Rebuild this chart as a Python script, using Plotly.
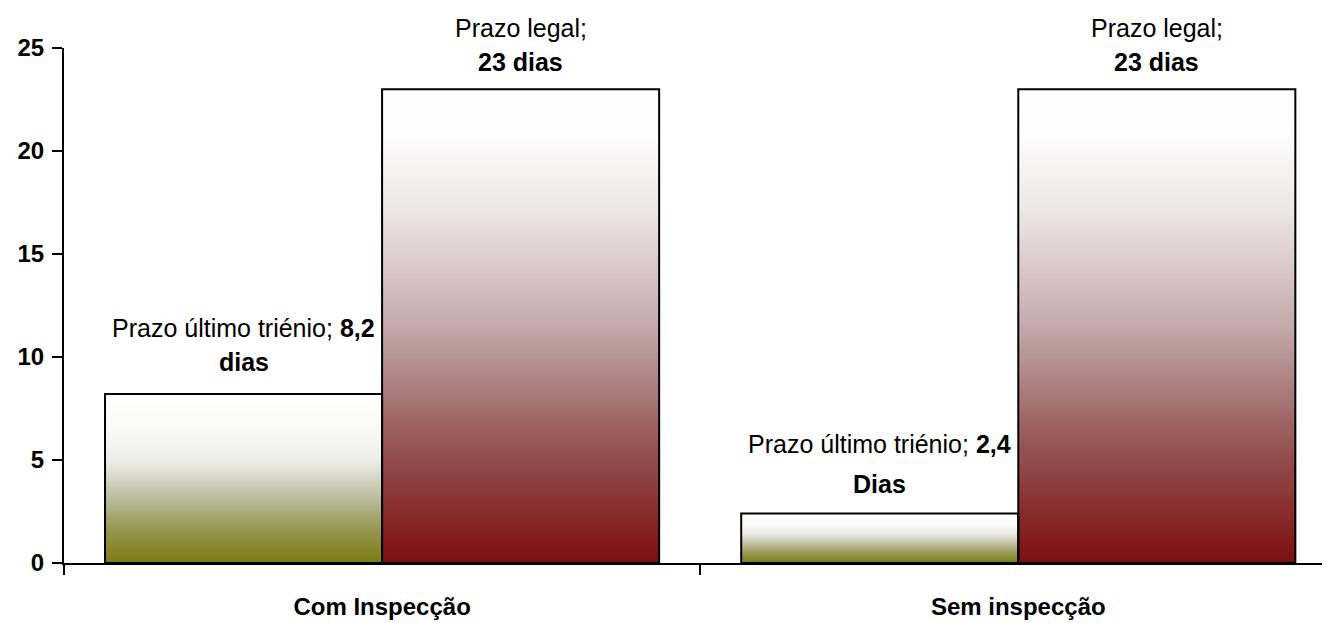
import plotly.graph_objects as go

categories = ["Com Inspecção", "Sem inspecção"]
prazo_trienio = [8.2, 2.4]
prazo_legal = [23, 23]
trienio_line1 = ["Prazo último triénio; <b>8,2</b>", "Prazo último triénio; <b>2,4</b>"]
trienio_line2 = ["<b>dias</b>", "<b>Dias</b>"]
legal_line1 = ["Prazo legal;", "Prazo legal;"]
legal_line2 = ["<b>23 dias</b>", "<b>23 dias</b>"]
y_ticks = [0, 5, 10, 15, 20, 25]

FONT = "Liberation Sans, Arial, sans-serif"
BAR_W = 0.4355
N = 160

green_stops = [(0.0, (124, 124, 18)), (0.2, (150, 150, 80)), (0.4, (192, 192, 165)),
               (0.6, (236, 236, 230)), (0.8, (250, 250, 248)), (1.0, (255, 255, 255))]
red_stops = [(0.0, (125, 14, 16)), (0.25, (150, 85, 85)), (0.5, (196, 170, 170)),
             (0.75, (238, 232, 230)), (0.9, (252, 252, 252)), (1.0, (255, 255, 255))]


def interp(stops, t):
    for (t0, c0), (t1, c1) in zip(stops[:-1], stops[1:]):
        if t <= t1:
            f = (t - t0) / (t1 - t0)
            return "rgb(%d,%d,%d)" % tuple(round(a + (b - a) * f) for a, b in zip(c0, c1))
    return "rgb(%d,%d,%d)" % stops[-1][1]


def gradient_trace(values, stops, offset):
    xs, ys, bases, cols = [], [], [], []
    for cat, v in zip(categories, values):
        for k in range(N):
            b = v * k / N
            xs.append(cat)
            ys.append(min(3 * v / N, v - b))
            bases.append(b)
            cols.append(interp(stops, (k + 0.5) / N))
    return go.Bar(x=xs, y=ys, base=bases, width=BAR_W, offset=offset,
                  marker=dict(color=cols, line=dict(width=0)),
                  hoverinfo="skip", showlegend=False)


fig = go.Figure()
fig.add_trace(gradient_trace(prazo_trienio, green_stops, -BAR_W))
fig.add_trace(gradient_trace(prazo_legal, red_stops, 0))
for vals, off in [(prazo_trienio, -BAR_W), (prazo_legal, 0)]:
    fig.add_trace(go.Bar(x=categories, y=vals, width=BAR_W, offset=off,
                         marker=dict(color="rgba(0,0,0,0)", line=dict(color="black", width=2)),
                         showlegend=False))

annotations = []
for i in range(len(categories)):
    xg = i - BAR_W / 2
    xr = i + BAR_W / 2
    annotations += [
        dict(x=xg, y=prazo_trienio[i], text=trienio_line1[i], yshift=66 if i == 0 else 70),
        dict(x=xg, y=prazo_trienio[i], text=trienio_line2[i], yshift=32 if i == 0 else 30),
        dict(x=xr, y=prazo_legal[i], text=legal_line1[i], yshift=61),
        dict(x=xr, y=prazo_legal[i], text=legal_line2[i], yshift=27),
    ]
for a in annotations:
    a.update(xref="x", yref="y", showarrow=False, xanchor="center", yanchor="middle",
             font=dict(family=FONT, size=25, color="black"))

fig.update_layout(
    width=1322, height=615,
    barmode="overlay",
    plot_bgcolor="white", paper_bgcolor="white",
    margin=dict(l=56, r=0, t=40, b=60),
    font=dict(family=FONT, size=25, color="black"),
    annotations=annotations,
    xaxis=dict(type="category", categoryorder="array", categoryarray=categories,
               range=[-0.5, 1.49], showline=True, linecolor="black", linewidth=2,
               ticks="outside", tickson="boundaries", ticklen=10, tickwidth=2, tickcolor="black",
               tickfont=dict(family=FONT, size=24, weight="bold"), ticklabelstandoff=21,
               showgrid=False, zeroline=False),
    yaxis=dict(range=[0, 25], tickvals=y_ticks, showline=True, linecolor="black", linewidth=2,
               ticks="outside", ticklen=10, tickwidth=2, tickcolor="black",
               tickfont=dict(family=FONT, size=24, weight="bold"), ticklabelstandoff=3,
               showgrid=False, zeroline=False),
)

fig.write_html("out.html")
